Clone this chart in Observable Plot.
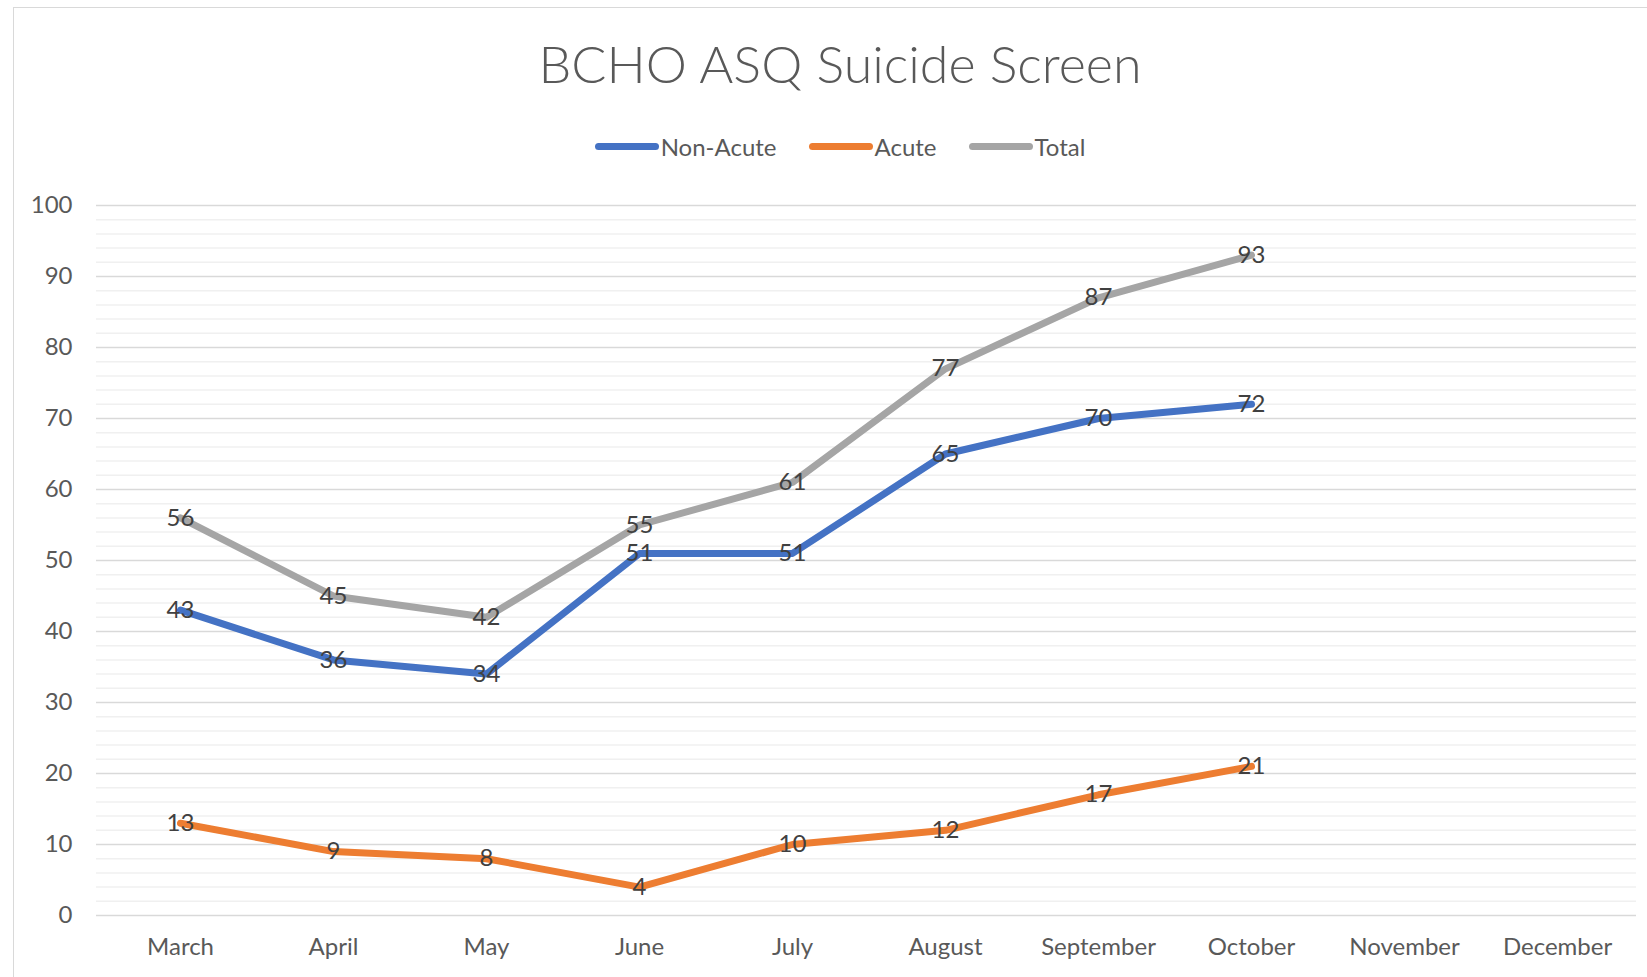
<!DOCTYPE html>
<html>
<head>
<meta charset="utf-8">
<script src="https://cdn.jsdelivr.net/npm/d3@7"></script>
<script src="https://cdn.jsdelivr.net/npm/@observablehq/plot@0.6"></script>
<style>
  html, body { margin: 0; padding: 0; background: #fff; overflow: hidden; }
  body { width: 1647px; height: 977px; position: relative; font-family: Lato, "Open Sans", sans-serif; }
  #frame { position: absolute; left: 13px; top: 7px; width: 1654px; height: 2000px; border: 1px solid #d9d9d9; z-index: 2; pointer-events: none; }
  #title { position: absolute; left: 13px; width: 1654px; top: 28px; text-align: center; font-size: 52px; font-weight: 300; color: #595959; line-height: 70px; }
  #legend { position: absolute; left: 13px; width: 1654px; top: 132px; display: flex; justify-content: center; align-items: center; gap: 32px; font-size: 24px; color: #595959; }
  .item { display: flex; align-items: center; gap: 2px; }
  .sw { width: 64px; height: 7px; border-radius: 3.5px; }
  #chart { position: absolute; left: 0; top: 170px; }
</style>
</head>
<body>
<div id="frame"></div>
<div id="title">BCHO ASQ Suicide Screen</div>
<div id="legend"></div>
<div id="chart"></div>
<script>
const months = ["March","April","May","June","July","August","September","October","November","December"];
const dataMonths = ["March","April","May","June","July","August","September","October"];
const nonAcute = [43,36,34,51,51,65,70,72];
const acute = [13,9,8,4,10,12,17,21];
const total = [56,45,42,55,61,77,87,93];
const seriesNames = ["Non-Acute","Acute","Total"];
const seriesColors = ["#4472C4","#ED7D31","#A5A5A5"];
const yTicks = [0,10,20,30,40,50,60,70,80,90,100];
const minorTicks = d3.range(0, 101, 2).filter(v => v % 10 !== 0);

const rows = [];
[nonAcute, acute, total].forEach((vals, i) => {
  vals.forEach((v, j) => rows.push({series: seriesNames[i], month: dataMonths[j], value: v}));
});

const legend = document.getElementById("legend");
seriesNames.forEach((n, i) => {
  const it = document.createElement("div");
  it.className = "item";
  it.innerHTML = `<span class="sw" style="background:${seriesColors[i]}"></span><span>${n}</span>`;
  legend.appendChild(it);
});

const chart = Plot.plot({
  width: 1647,
  height: 807,
  marginLeft: 100,
  marginRight: 11,
  marginTop: 35,
  marginBottom: 62,
  style: { fontFamily: "Lato, 'Open Sans', sans-serif", fontSize: "24px", color: "#595959", background: "transparent" },
  x: { type: "point", domain: months, padding: 0.5, label: null },
  y: { domain: [0, 100], label: null },
  color: { domain: seriesNames, range: seriesColors },
  marks: [
    Plot.ruleY(minorTicks, { stroke: "#f0f0f0", strokeWidth: 1.5, insetLeft: -4 }),
    Plot.ruleY(yTicks, { stroke: "#d9d9d9", strokeWidth: 1.5, insetLeft: -4 }),
    Plot.axisY({ ticks: yTicks, tickSize: 0, tickPadding: 28, label: null, fill: "#595959" }),
    Plot.axisX({ tickSize: 0, tickPadding: 22, label: null, fill: "#595959" }),
    Plot.line(rows, { x: "month", y: "value", z: "series", stroke: "series", strokeWidth: 7, strokeLinecap: "round", strokeLinejoin: "round" }),
    Plot.text(rows, { x: "month", y: "value", text: d => String(d.value), fill: "#404040", fontSize: 24 })
  ]
});
document.getElementById("chart").appendChild(chart);
</script>
</body>
</html>
